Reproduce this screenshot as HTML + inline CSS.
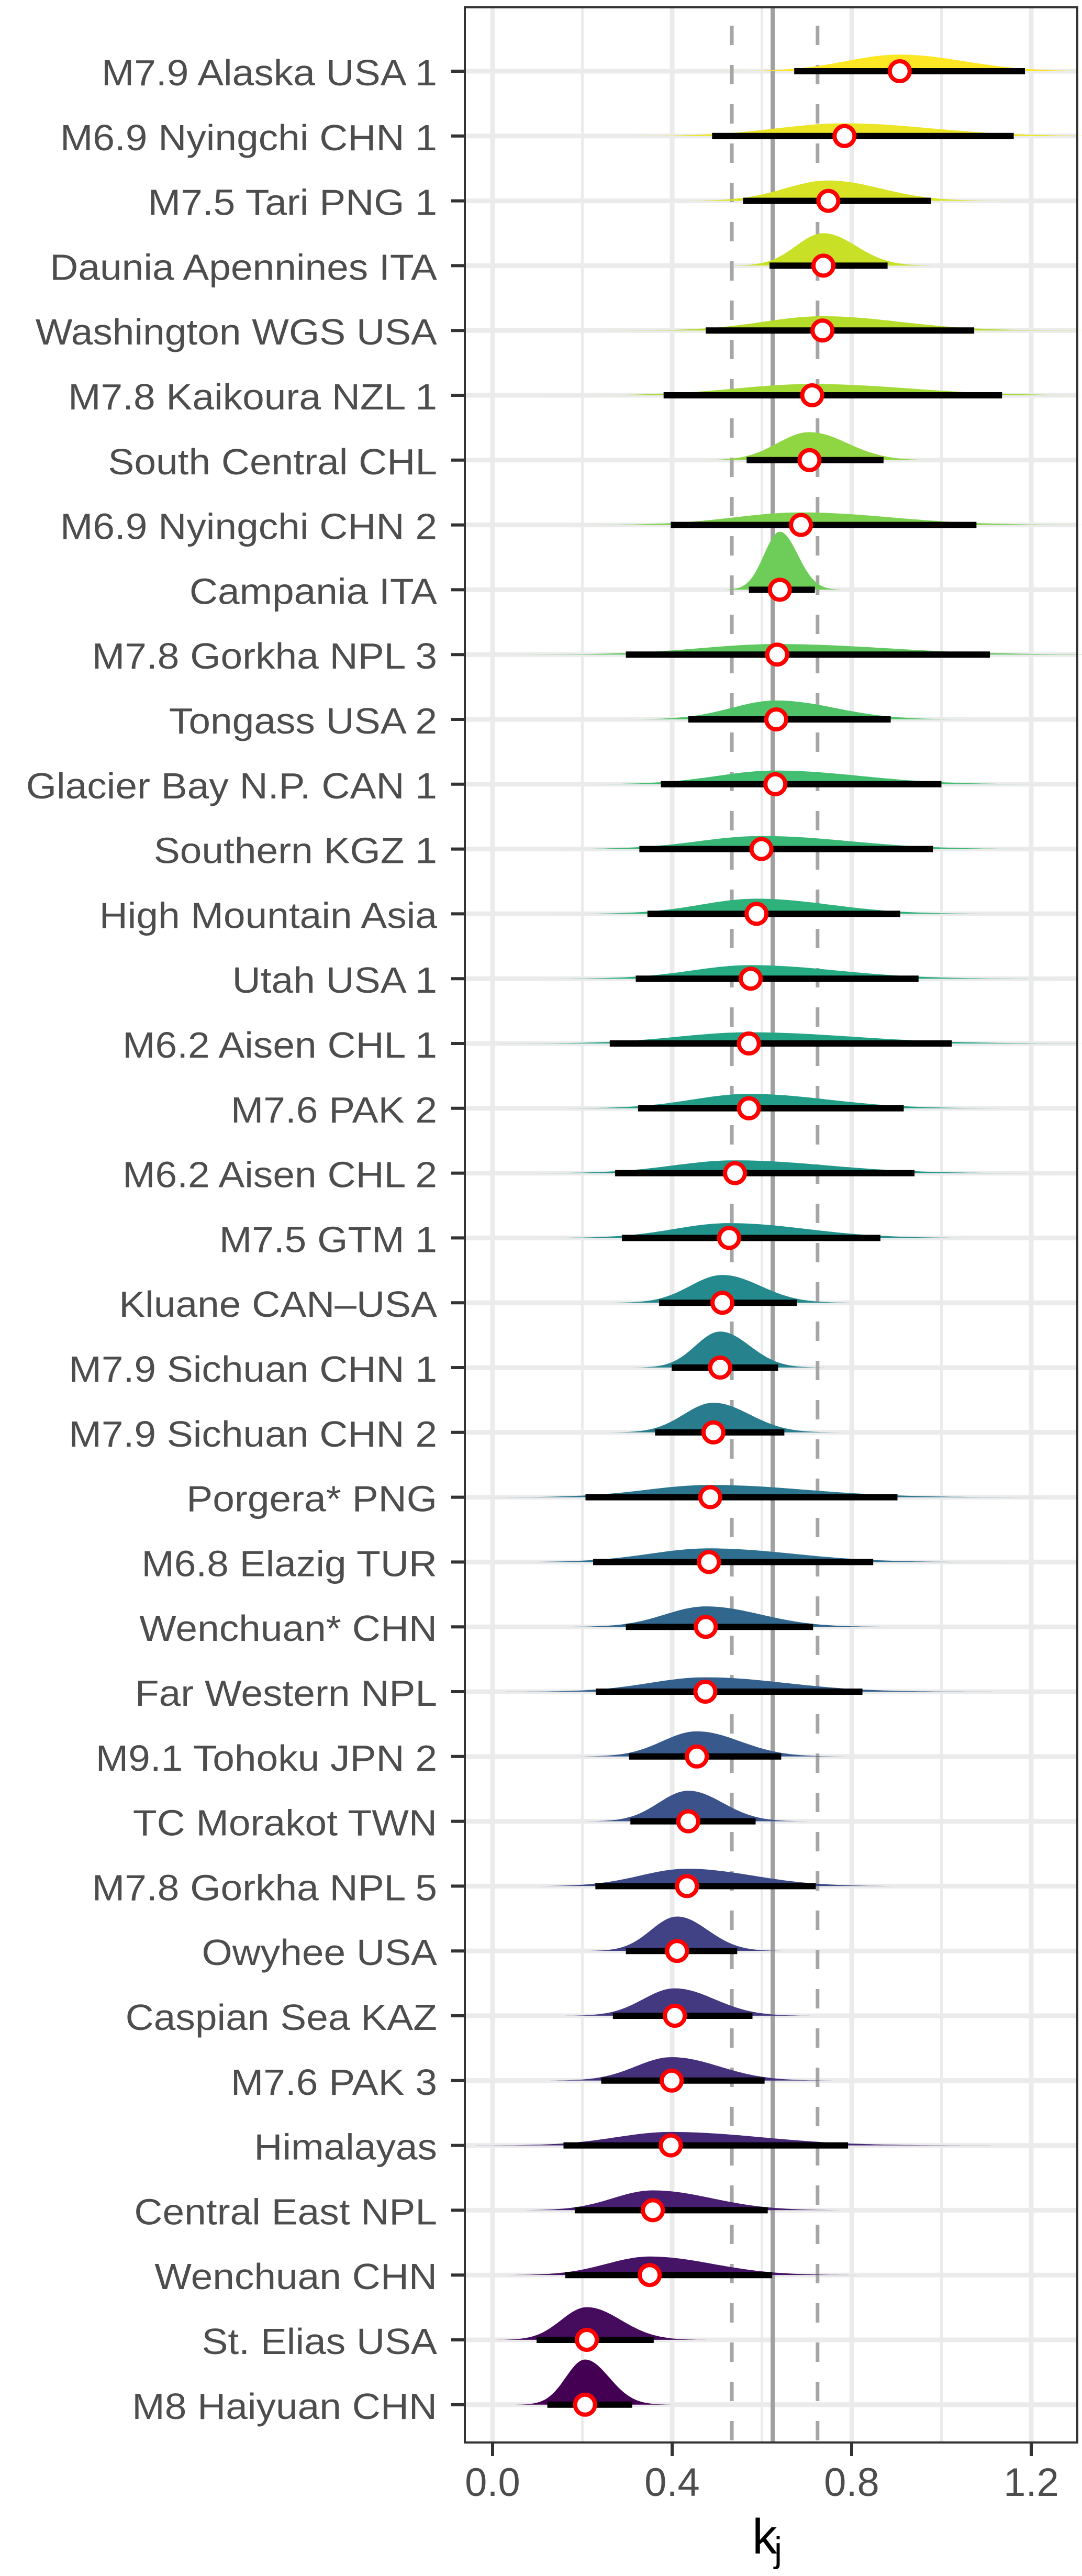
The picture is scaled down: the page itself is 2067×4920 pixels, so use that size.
<!DOCTYPE html>
<html><head><meta charset="utf-8"><style>
html,body{margin:0;padding:0;background:#fff;}
svg{display:block;font-family:"Liberation Sans",Arial,sans-serif;}
</style></head><body>
<svg id="chart" width="2067" height="4920" viewBox="0 0 2067 4920" xmlns="http://www.w3.org/2000/svg">
<rect x="0" y="0" width="2067" height="4920" fill="#fff"/>
<g id="grid"></g>
<g id="refs"></g>
<g id="marks"></g>
<g id="axes"></g>
</svg>
<script>
const categories = ["M7.9 Alaska USA 1","M6.9 Nyingchi CHN 1","M7.5 Tari PNG 1","Daunia Apennines ITA","Washington WGS USA","M7.8 Kaikoura NZL 1","South Central CHL","M6.9 Nyingchi CHN 2","Campania ITA","M7.8 Gorkha NPL 3","Tongass USA 2","Glacier Bay N.P. CAN 1","Southern KGZ 1","High Mountain Asia","Utah USA 1","M6.2 Aisen CHL 1","M7.6 PAK 2","M6.2 Aisen CHL 2","M7.5 GTM 1","Kluane CAN\u2013USA","M7.9 Sichuan CHN 1","M7.9 Sichuan CHN 2","Porgera* PNG","M6.8 Elazig TUR","Wenchuan* CHN","Far Western NPL","M9.1 Tohoku JPN 2","TC Morakot TWN","M7.8 Gorkha NPL 5","Owyhee USA","Caspian Sea KAZ","M7.6 PAK 3","Himalayas","Central East NPL","Wenchuan CHN","St. Elias USA","M8 Haiyuan CHN"];
const medians = [0.907,0.784,0.748,0.737,0.735,0.712,0.706,0.687,0.640,0.634,0.632,0.630,0.599,0.588,0.575,0.571,0.571,0.540,0.527,0.512,0.507,0.492,0.485,0.482,0.475,0.474,0.455,0.436,0.433,0.411,0.406,0.399,0.397,0.357,0.350,0.210,0.206];
const lower = [0.672,0.489,0.558,0.617,0.475,0.381,0.566,0.397,0.571,0.297,0.436,0.375,0.327,0.345,0.319,0.261,0.324,0.273,0.288,0.371,0.399,0.362,0.207,0.224,0.297,0.230,0.304,0.307,0.229,0.297,0.268,0.242,0.158,0.183,0.162,0.098,0.122];
const upper = [1.186,1.161,0.977,0.880,1.073,1.135,0.871,1.078,0.718,1.108,0.887,1.000,0.981,0.908,0.949,1.023,0.916,0.940,0.864,0.678,0.636,0.650,0.902,0.848,0.714,0.824,0.643,0.586,0.720,0.545,0.579,0.606,0.792,0.613,0.623,0.359,0.311];
const xTicks = [0.0,0.4,0.8,1.2];
const xTickLabels = ["0.0","0.4","0.8","1.2"];
const minorTicks = [0.2,0.6,1.0];
const refMean = 0.624;
const refBand = [0.533,0.724];

const NS="http://www.w3.org/2000/svg";
const PL=888, PR=2058, PT=14, PB=4665;
const xs = v => 941 + v*857.5;
const ys = i => 136 + i*123.8;
function el(tag, attrs, parent){const e=document.createElementNS(NS,tag);for(const k in attrs)e.setAttribute(k,attrs[k]);parent.appendChild(e);return e;}
const grid=document.getElementById('grid'), refs=document.getElementById('refs'), marks=document.getElementById('marks'), axes=document.getElementById('axes');

const vstops=["#440154","#482475","#414487","#355f8d","#2a788e","#21918c","#22a884","#44bf70","#7ad151","#bddf26","#fde725"];
function hex2rgb(h){return [1,3,5].map(i=>parseInt(h.substr(i,2),16));}
function viridis(t){const p=t*(vstops.length-1);const i=Math.min(Math.floor(p),vstops.length-2);const f=p-i;const a=hex2rgb(vstops[i]),b=hex2rgb(vstops[i+1]);return "rgb("+a.map((v,k)=>Math.round(v+(b[k]-v)*f)).join(",")+")";}

minorTicks.forEach(v=>{const l=el('line',{x1:xs(v),x2:xs(v),y1:PT,y2:PB,stroke:'#ebebeb','stroke-width':5},grid);

});
xTicks.forEach(v=>{const l=el('line',{x1:xs(v),x2:xs(v),y1:PT,y2:PB,stroke:'#ebebeb','stroke-width':9},grid);

});
categories.forEach((c,i)=>{const l=el('line',{x1:PL,x2:PR,y1:ys(i),y2:ys(i),stroke:'#ebebeb','stroke-width':9},grid);

});

refBand.forEach(v=>{const l=el('line',{x1:xs(v),x2:xs(v),y1:PB,y2:PT,stroke:'#a6a6a6','stroke-width':7,'stroke-dasharray':'37 38','stroke-dashoffset':'-4'},refs);

});
{const l=el('line',{x1:xs(refMean),x2:xs(refMean),y1:PT,y2:PB,stroke:'#a0a0a0','stroke-width':8},refs);

}

const AREA=16.3;
categories.forEach((c,i)=>{
  const m=medians[i], lo=lower[i], hi=upper[i], y0=ys(i);
  const sdL=Math.max((m-lo)/1.96,0.005), sdR=Math.max((hi-m)/1.96,0.005);
  const h=AREA/(hi-lo);
  const col=viridis(1-i/(categories.length-1));
  let d="";
  const N=120, a=m-3.6*sdL, b=m+3.6*sdR;
  for(let k=0;k<=N;k++){const v=a+(b-a)*k/N;const sd=v<m?sdL:sdR;const yy=y0-h*Math.exp(-0.5*Math.pow((v-m)/sd,2));
    d+=(k?"L":"M")+xs(Math.max(v,-0.06)).toFixed(1)+","+yy.toFixed(1);}
  d+="Z";
  const p=el('path',{d:d,fill:col},marks);
  
  
  const bar=el('line',{x1:xs(lo),x2:xs(hi),y1:y0,y2:y0,stroke:'#000','stroke-width':12},marks);
  
  
  const pt=el('circle',{cx:xs(m),cy:y0,r:19,fill:'#fff',stroke:'#ff0000','stroke-width':8},marks);
  
  
});

{const r=el('rect',{x:PL,y:PT,width:PR-PL,height:PB-PT,fill:'none',stroke:'#333','stroke-width':4},axes);

}
categories.forEach((c,i)=>{
  const y=ys(i);
  const tk=el('line',{x1:862,x2:PL,y1:y,y2:y,stroke:'#333','stroke-width':6},axes);
  
  
  const t=el('text',{x:0,y:0,'font-size':70,fill:'#4d4d4d','text-anchor':'end',transform:'translate(835,'+(y+27)+') scale(1.07,1)'},axes);
  t.textContent=c;
  
  
});
xTicks.forEach((v,i)=>{
  const tk=el('line',{x1:xs(v),x2:xs(v),y1:PB,y2:PB+26,stroke:'#333','stroke-width':6},axes);
  
  
  const t=el('text',{x:xs(v),y:4767,'font-size':76,fill:'#4d4d4d','text-anchor':'middle'},axes);
  t.textContent=xTickLabels[i];
  
  
});
{const t=el('text',{x:1437,y:4877,'font-size':95,fill:'#000'},axes);


t.textContent='k';
const s=el('tspan',{x:1479,y:4893,'font-size':68},t);
s.textContent='j';

}
</script>
</body></html>
